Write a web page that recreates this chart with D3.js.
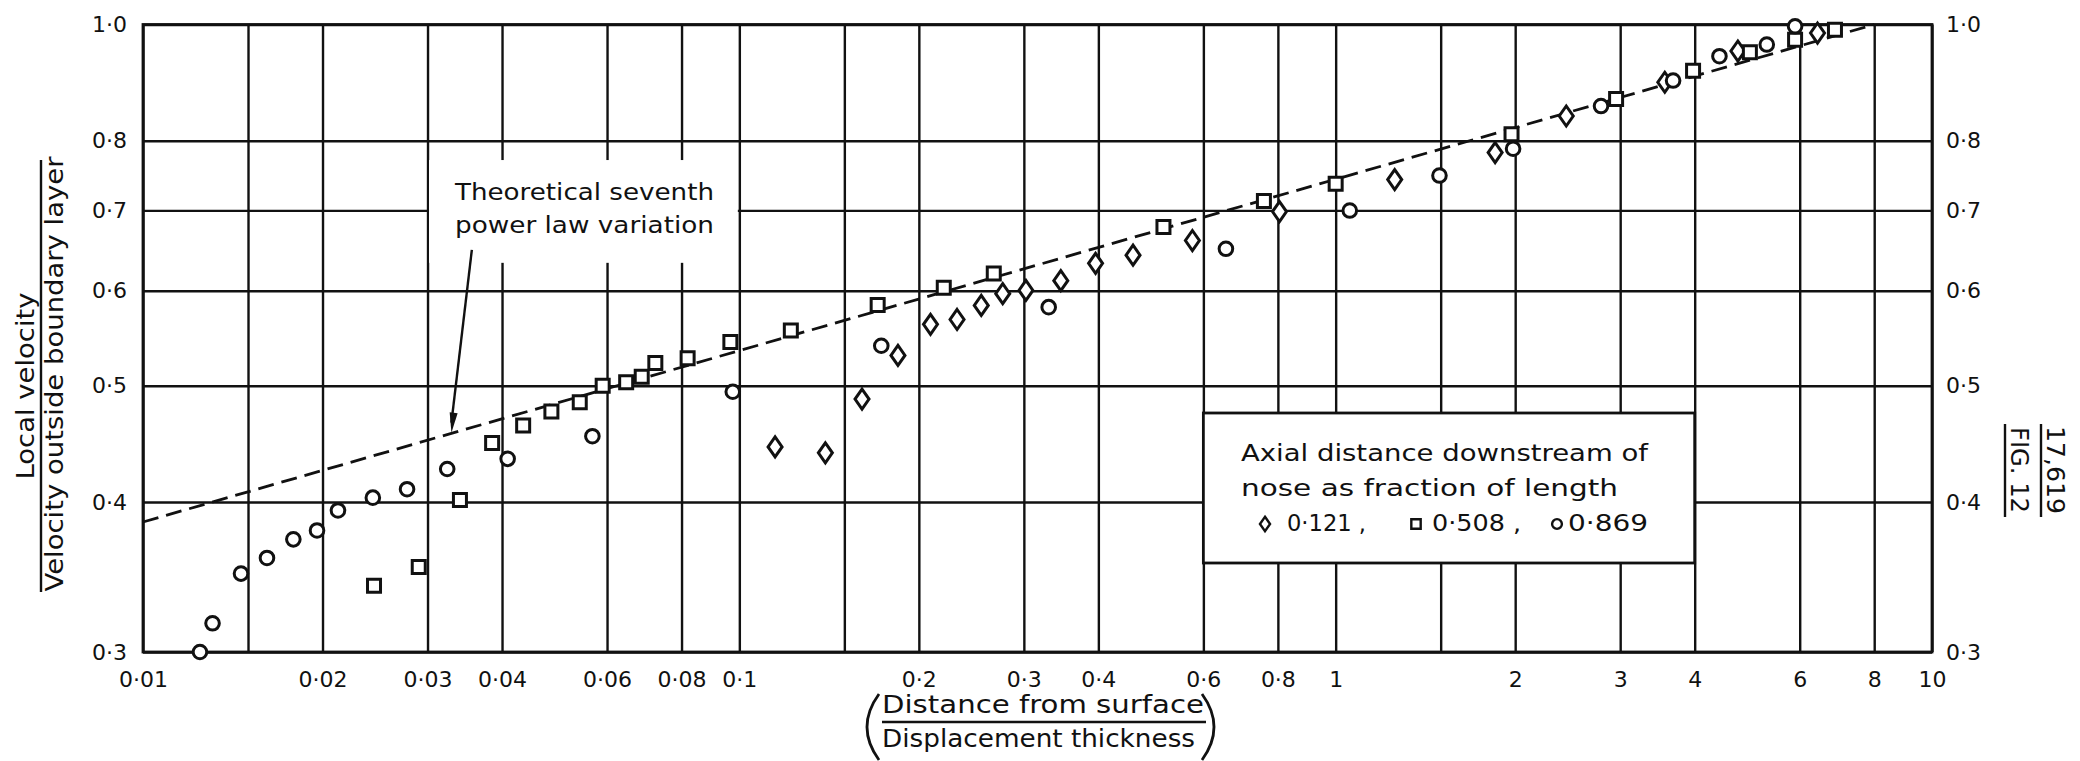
<!DOCTYPE html>
<html>
<head>
<meta charset="utf-8">
<script src="https://cdn.jsdelivr.net/npm/d3@7"></script>
<style>
  body { margin: 0; background: #fff; }
  svg text { font-family: "DejaVu Sans", sans-serif; fill: #111; }
</style>
</head>
<body>
<div id="chart"></div>
<script>
// grid / tick values
const xGridValues = [0.01, 0.015, 0.02, 0.03, 0.04, 0.06, 0.08, 0.1, 0.15, 0.2, 0.3, 0.4, 0.6, 0.8, 1, 1.5, 2, 3, 4, 6, 8, 10];
const xTickValues = [0.01, 0.02, 0.03, 0.04, 0.06, 0.08, 0.1, 0.2, 0.3, 0.4, 0.6, 0.8, 1, 2, 3, 4, 6, 8, 10];
const xTickLabels = ["0·01", "0·02", "0·03", "0·04", "0·06", "0·08", "0·1", "0·2", "0·3", "0·4", "0·6", "0·8", "1", "2", "3", "4", "6", "8", "10"];
const yTickValues = [0.3, 0.4, 0.5, 0.6, 0.7, 0.8, 1.0];
const yTickLabels = ["0·3", "0·4", "0·5", "0·6", "0·7", "0·8", "1·0"];

// measured points [distance / displacement thickness, u / U]
const diamonds121 = [
  [0.1148, 0.4446], [0.1394, 0.4396], [0.1606, 0.4874], [0.1845, 0.530], [0.2092, 0.5625],
  [0.2318, 0.5678], [0.2545, 0.5833], [0.2765, 0.5966], [0.3024, 0.6003], [0.346, 0.6117],
  [0.3957, 0.6324], [0.4573, 0.6423], [0.5751, 0.6607], [0.805, 0.6984], [1.256, 0.7426],
  [1.851, 0.7822], [2.436, 0.839], [3.564, 0.8951], [4.726, 0.9504], [6.427, 0.9838]
];
const squares508 = [
  [0.0244, 0.3407], [0.029, 0.3532], [0.034, 0.4016], [0.0385, 0.448], [0.0434, 0.4633],
  [0.0484, 0.476], [0.054, 0.4845], [0.059, 0.500], [0.0646, 0.5034], [0.0686, 0.5088],
  [0.0723, 0.5222], [0.0819, 0.527], [0.0966, 0.5439], [0.122, 0.5559], [0.1706, 0.5837],
  [0.2202, 0.6035], [0.2671, 0.6201], [0.5143, 0.6779], [0.758, 0.7127], [1.0, 0.7366],
  [1.972, 0.81], [2.953, 0.867], [3.975, 0.915], [4.95, 0.948], [5.894, 0.9713], [6.875, 0.99]
];
const circles869 = [
  [0.01246, 0.30], [0.01308, 0.317], [0.0146, 0.3487], [0.01614, 0.3593], [0.01787, 0.3724],
  [0.01958, 0.3788], [0.02123, 0.3936], [0.02429, 0.4034], [0.02772, 0.41], [0.03237, 0.4262],
  [0.04088, 0.4346], [0.0567, 0.4539], [0.0975, 0.4943], [0.173, 0.5399], [0.3302, 0.5814],
  [0.6546, 0.6503], [1.056, 0.6998], [1.493, 0.7484], [1.984, 0.788], [2.786, 0.8552],
  [3.68, 0.898], [4.401, 0.941], [5.284, 0.9623], [5.894, 0.9966]
];
// theoretical 1/7 power law, straight on log-log paper
const seventhPowerLaw = [[0.01, 0.385], [8, 1.0]];

const legendLines = ["Axial distance downstream of", "nose as fraction of length"];
const legendLabels = ["0·121 ,", "0·508 ,", "0·869"];
const annotationLines = ["Theoretical seventh", "power law variation"];
const arrowFrom = [0.0356, 0.649];
const arrowTo = [0.0329, 0.457];

const width = 2080, height = 761;
const plotLeft = 143, plotRight = 1932, plotTop = 24.5, plotBottom = 652;
const ink = "#111";

const svg = d3.select("#chart").append("svg")
  .attr("width", width).attr("height", height);

const x = d3.scaleLog().domain([0.01, 10]).range([plotLeft, plotRight]);
const y = d3.scaleLog().domain([0.3, 1.0]).range([plotBottom, plotTop]);

// grid lines
const gridX = svg.append("g")
  .attr("transform", `translate(0,${plotBottom})`)
  .call(d3.axisBottom(x).tickValues(xGridValues).tickSize(-(plotBottom - plotTop)).tickFormat(""));
const gridY = svg.append("g")
  .attr("transform", `translate(${plotLeft},0)`)
  .call(d3.axisLeft(y).tickValues(yTickValues).tickSize(-(plotRight - plotLeft)).tickFormat(""));
[gridX, gridY].forEach(g => {
  g.select(".domain").remove();
  g.selectAll("line").attr("stroke", ink).attr("stroke-width", 2.4);
});

// frame
svg.append("rect")
  .attr("x", plotLeft).attr("y", plotTop)
  .attr("width", plotRight - plotLeft).attr("height", plotBottom - plotTop)
  .attr("fill", "none").attr("stroke", ink).attr("stroke-width", 2.8);

// tick labels
const fmtX = d => xTickLabels[xTickValues.indexOf(d)];
const fmtY = d => yTickLabels[yTickValues.indexOf(d)];
const axB = svg.append("g")
  .attr("transform", `translate(0,${plotBottom})`)
  .call(d3.axisBottom(x).tickValues(xTickValues).tickFormat(fmtX).tickSize(0).tickPadding(19));
const axL = svg.append("g")
  .attr("transform", `translate(${plotLeft},0)`)
  .call(d3.axisLeft(y).tickValues(yTickValues).tickFormat(fmtY).tickSize(0).tickPadding(16));
const axR = svg.append("g")
  .attr("transform", `translate(${plotRight},0)`)
  .call(d3.axisRight(y).tickValues(yTickValues).tickFormat(fmtY).tickSize(0).tickPadding(14));
[axB, axL, axR].forEach(g => {
  g.select(".domain").remove();
  g.selectAll("text").style("font-family", "DejaVu Sans").style("font-size", "22px").attr("fill", ink);
});

// white box behind the annotation
svg.append("rect")
  .attr("x", x(0.03) + 1.5).attr("y", y(0.771))
  .attr("width", x(0.1) - x(0.03) - 3).attr("height", y(0.633) - y(0.771))
  .attr("fill", "#fff");

// dashed theoretical line
svg.append("path")
  .datum(seventhPowerLaw)
  .attr("d", d3.line().x(d => x(d[0])).y(d => y(d[1])))
  .attr("fill", "none").attr("stroke", ink)
  .attr("stroke-width", 2.8).attr("stroke-dasharray", "16,8");

// markers
function markerPath(kind, s) {
  if (kind === "diamond") {
    const w = 7 * s, h = 10 * s;
    return `M0,${-h}L${w},0L0,${h}L${-w},0Z`;
  }
  if (kind === "square") {
    const a = 6.5 * s;
    return `M${-a},${-a}H${a}V${a}H${-a}Z`;
  }
  const r = 6.8 * s;
  return `M${r},0A${r},${r} 0 1,1 ${-r},0A${r},${r} 0 1,1 ${r},0Z`;
}
const series = [
  { kind: "diamond", data: diamonds121 },
  { kind: "square", data: squares508 },
  { kind: "circle", data: circles869 }
];
series.forEach(s => {
  svg.append("g").selectAll("path")
    .data(s.data)
    .join("path")
    .attr("transform", d => `translate(${x(d[0])},${y(d[1])})`)
    .attr("d", markerPath(s.kind, 1))
    .attr("fill", "#fff").attr("stroke", ink).attr("stroke-width", 3);
});

// annotation text and arrow
annotationLines.forEach((t, i) => {
  svg.append("text")
    .attr("x", 455).attr("y", 200 + i * 33)
    .attr("textLength", 259).attr("lengthAdjust", "spacingAndGlyphs")
    .style("font-size", "23px")
    .text(t);
});
const ax0 = x(arrowFrom[0]), ay0 = y(arrowFrom[1]);
const ax1 = x(arrowTo[0]), ay1 = y(arrowTo[1]);
svg.append("line")
  .attr("x1", ax0).attr("y1", ay0).attr("x2", ax1).attr("y2", ay1 - 10)
  .attr("stroke", ink).attr("stroke-width", 2.4);
const ang = Math.atan2(ay1 - ay0, ax1 - ax0);
const headL = 20, headW = 4;
const bx = ax1 - headL * Math.cos(ang), by = ay1 - headL * Math.sin(ang);
svg.append("path")
  .attr("d", `M${ax1},${ay1}L${bx - headW * Math.sin(ang)},${by + headW * Math.cos(ang)}L${bx + headW * Math.sin(ang)},${by - headW * Math.cos(ang)}Z`)
  .attr("fill", ink);

// legend box
const lg = svg.append("g");
lg.append("rect")
  .attr("x", x(0.6)).attr("y", 413)
  .attr("width", x(4) - x(0.6)).attr("height", 150)
  .attr("fill", "#fff").attr("stroke", ink).attr("stroke-width", 2.8);
const legendWidths = [407, 377];
legendLines.forEach((t, i) => {
  lg.append("text")
    .attr("x", 1241).attr("y", 461 + i * 35)
    .attr("textLength", legendWidths[i]).attr("lengthAdjust", "spacingAndGlyphs")
    .style("font-size", "23px")
    .text(t);
});
const legendSym = [
  { kind: "diamond", cx: 1265, tx: 1287, tw: 79 },
  { kind: "square", cx: 1416, tx: 1432, tw: 89 },
  { kind: "circle", cx: 1557, tx: 1568, tw: 80 }
];
legendSym.forEach((s, i) => {
  lg.append("path")
    .attr("transform", `translate(${s.cx},524)`)
    .attr("d", markerPath(s.kind, 0.72))
    .attr("fill", "#fff").attr("stroke", ink).attr("stroke-width", 2.4);
  lg.append("text")
    .attr("x", s.tx).attr("y", 531)
    .attr("textLength", s.tw).attr("lengthAdjust", "spacingAndGlyphs")
    .style("font-size", "23px")
    .text(legendLabels[i]);
});

// x axis title as a fraction in brackets
const xt = svg.append("g");
xt.append("text").attr("x", 882).attr("y", 713)
  .attr("textLength", 322).attr("lengthAdjust", "spacingAndGlyphs")
  .style("font-size", "24px").text("Distance from surface");
xt.append("line").attr("x1", 882).attr("x2", 1206).attr("y1", 722).attr("y2", 722)
  .attr("stroke", ink).attr("stroke-width", 2.4);
xt.append("text").attr("x", 882).attr("y", 747)
  .attr("textLength", 313).attr("lengthAdjust", "spacingAndGlyphs")
  .style("font-size", "24px").text("Displacement thickness");
xt.append("path").attr("d", "M879,694 Q855,727 879,760")
  .attr("fill", "none").attr("stroke", ink).attr("stroke-width", 2.8);
xt.append("path").attr("d", "M1202,694 Q1226,727 1202,760")
  .attr("fill", "none").attr("stroke", ink).attr("stroke-width", 2.8);

// y axis title as a fraction, rotated
const yt = svg.append("g");
yt.append("text")
  .attr("transform", "translate(34,386) rotate(-90)")
  .attr("text-anchor", "middle")
  .attr("textLength", 187).attr("lengthAdjust", "spacingAndGlyphs")
  .style("font-size", "24px").text("Local velocity");
yt.append("line").attr("x1", 41).attr("x2", 41).attr("y1", 160).attr("y2", 592)
  .attr("stroke", ink).attr("stroke-width", 2.4);
yt.append("text")
  .attr("transform", "translate(63,374) rotate(-90)")
  .attr("text-anchor", "middle")
  .attr("textLength", 435).attr("lengthAdjust", "spacingAndGlyphs")
  .style("font-size", "24px").text("Velocity outside boundary layer");

// figure reference at the right margin
const fig = svg.append("g");
fig.append("text")
  .attr("transform", "translate(2047,470) rotate(90)")
  .attr("text-anchor", "middle")
  .attr("textLength", 88).attr("lengthAdjust", "spacingAndGlyphs")
  .style("font-size", "24px").text("17,619");
fig.append("line").attr("x1", 2041).attr("x2", 2041).attr("y1", 424).attr("y2", 517)
  .attr("stroke", ink).attr("stroke-width", 2.4);
fig.append("text")
  .attr("transform", "translate(2011,470) rotate(90)")
  .attr("text-anchor", "middle")
  .attr("textLength", 86).attr("lengthAdjust", "spacingAndGlyphs")
  .style("font-size", "24px").text("FIG. 12");
fig.append("line").attr("x1", 2005).attr("x2", 2005).attr("y1", 424).attr("y2", 517)
  .attr("stroke", ink).attr("stroke-width", 2.4);
</script>
</body>
</html>
